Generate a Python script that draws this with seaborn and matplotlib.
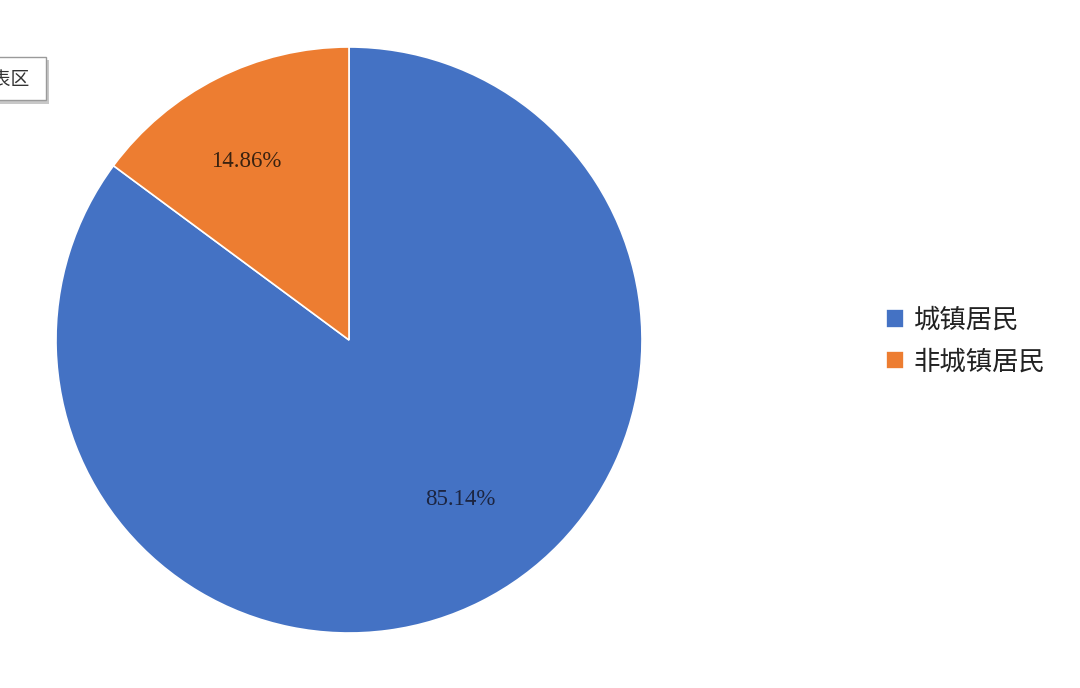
import matplotlib
matplotlib.use("Agg")
import matplotlib.pyplot as plt
from matplotlib.patches import Rectangle
import seaborn as sns

categories = ["城镇居民", "非城镇居民"]
values = [85.14, 14.86]
pct_labels = ["85.14%", "14.86%"]
colors = ["#4472C4", "#ED7D31"]

sns.set_theme(style="white")
plt.rcParams['font.family'] = ['Noto Sans CJK SC', 'DejaVu Sans']

W, H = 1080, 688
fig = plt.figure(figsize=(W / 100, H / 100), dpi=100)
fig.patch.set_facecolor("white")

cx, cy, r = 349, 340, 293
ax = fig.add_axes([(cx - r) / W, (H - cy - r) / H, 2 * r / W, 2 * r / H])

wedges, _ = ax.pie(values, colors=colors, startangle=90, counterclock=False,
                   radius=1.0, wedgeprops=dict(edgecolor="white", linewidth=1.2))
ax.set_xlim(-1, 1)
ax.set_ylim(-1, 1)
ax.set_aspect("equal")
ax.axis("off")

# data labels (Excel-like placement)
label_pos = [(0.38, -0.545), (-0.35, 0.61)]
label_colors = ["#1c2541", "#3a2210"]
for (lx, ly), txt, c in zip(label_pos, pct_labels, label_colors):
    ax.text(lx, ly, txt, ha="center", va="center", fontsize=16.5,
            family=["Liberation Serif", "DejaVu Serif"], color=c)

leg = fig.legend(wedges, categories, loc="center left",
                 bbox_to_anchor=(862 / W, 1 - 341 / H), frameon=False,
                 fontsize=19, handlelength=0.7, handleheight=0.7,
                 handletextpad=0.35, labelspacing=0.55)
for t in leg.get_texts():
    t.set_color("#222222")

# partially visible "图表区" tooltip box at top-left (with drop shadow)
def px_rect(x0, y0, x1, y1, **kw):
    return Rectangle((x0 / W, 1 - y1 / H), (x1 - x0) / W, (y1 - y0) / H,
                     transform=fig.transFigure, **kw)

fig.add_artist(px_rect(-20, 60, 49, 104, facecolor="#c8c8c8", edgecolor="none"))
fig.add_artist(px_rect(-20, 57, 46, 100, facecolor="white",
                       edgecolor="#9a9a9a", linewidth=1.0))
fig.text(30 / W, 1 - 80 / H, "图表区", ha="right", va="center", fontsize=13.5,
         color="#333333")

fig.savefig("out.png", dpi=100, facecolor="white")
